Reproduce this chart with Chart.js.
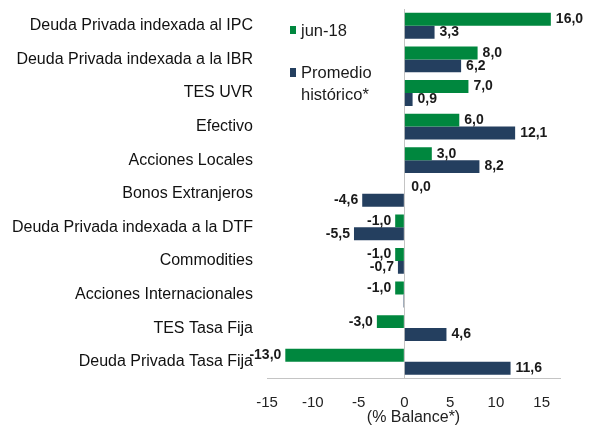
<!DOCTYPE html>
<html>
<head>
<meta charset="utf-8">
<script src="https://cdn.jsdelivr.net/npm/chart.js@4.4.0/dist/chart.umd.min.js"></script>
<style>
    html, body { margin: 0; padding: 0; background: #fff; }
    #wrap { width: 595px; height: 427px; }
</style>
</head>
<body>
<div id="wrap"><canvas id="balanceChart" width="595" height="427"></canvas></div>
<script>
const categories = [
    'Deuda Privada indexada al IPC',
    'Deuda Privada indexada a la IBR',
    'TES UVR',
    'Efectivo',
    'Acciones Locales',
    'Bonos Extranjeros',
    'Deuda Privada indexada a la DTF',
    'Commodities',
    'Acciones Internacionales',
    'TES Tasa Fija',
    'Deuda Privada Tasa Fija'
];
const jun18 = [16.0, 8.0, 7.0, 6.0, 3.0, 0.0, -1.0, -1.0, -1.0, -3.0, -13.0];
const promedioHistorico = [3.3, 6.2, 0.9, 12.1, 8.2, -4.6, -5.5, -0.7, -0.1, 4.6, 11.6];
const xTicks = [-15, -10, -5, 0, 5, 10, 15];
// the tiny bar in 'Acciones Internacionales' carries no label in the original
const unlabeled = { 1: ['Acciones Internacionales'] };

const GREEN = '#00873E';
const NAVY = '#243F5F';
const FONT = "'Liberation Sans', Arial, sans-serif";

const fmt = v => v.toFixed(1).replace('.', ',');

// value labels at the end of each bar
const barLabels = {
    id: 'barLabels',
    afterDatasetsDraw(chart) {
        const ctx = chart.ctx;
        ctx.save();
        ctx.font = 'bold 14px ' + FONT;
        ctx.fillStyle = '#1a1a1a';
        ctx.textBaseline = 'middle';
        chart.data.datasets.forEach((ds, di) => {
            const meta = chart.getDatasetMeta(di);
            meta.data.forEach((bar, i) => {
                const v = ds.data[i];
                if ((unlabeled[di] || []).includes(categories[i])) return;
                const zero = chart.scales.x.getPixelForValue(0);
                if (v < 0) {
                    ctx.textAlign = 'right';
                    ctx.fillText(fmt(v), bar.x - 4, bar.y);
                } else {
                    ctx.textAlign = 'left';
                    ctx.fillText(fmt(v), Math.max(bar.x, zero + 2) + 5, bar.y);
                }
            });
        });
        ctx.restore();
    }
};

// legend sits inside the plot on the left
const innerLegend = {
    id: 'innerLegend',
    afterDraw(chart) {
        const ctx = chart.ctx;
        ctx.save();
        ctx.font = '16.5px ' + FONT;
        ctx.textBaseline = 'middle';
        ctx.textAlign = 'left';
        ctx.fillStyle = GREEN;
        ctx.fillRect(290, 26, 6, 8);
        ctx.fillStyle = NAVY;
        ctx.fillRect(290, 68, 6, 9);
        ctx.fillStyle = '#1a1a1a';
        ctx.fillText(chart.data.datasets[0].label, 301, 31);
        const lines = chart.data.datasets[1].label.split(' ');
        ctx.fillText(lines[0], 301, 73);
        ctx.fillText(lines[1], 301, 95);
        ctx.restore();
    }
};

new Chart(document.getElementById('balanceChart'), {
    type: 'bar',
    data: {
        labels: categories,
        datasets: [
            { label: 'jun-18', data: jun18, backgroundColor: GREEN },
            { label: 'Promedio histórico*', data: promedioHistorico, backgroundColor: NAVY }
        ]
    },
    options: {
        indexAxis: 'y',
        responsive: false,
        animation: false,
        layout: { padding: { top: 9, right: 35, left: 0, bottom: 0 } },
        datasets: { bar: { barPercentage: 1, categoryPercentage: 0.77 } },
        plugins: {
            legend: { display: false },
            tooltip: { enabled: false }
        },
        scales: {
            x: {
                min: -15,
                max: 17,
                afterBuildTicks: s => { s.ticks = xTicks.map(v => ({ value: v })); },
                afterFit: s => { s.height = 48.5; s.paddingLeft = 0; s.paddingRight = 0; },
                grid: {
                    drawTicks: false,
                    color: c => (c.tick && c.tick.value === 0 ? '#c4c4c4' : 'transparent')
                },
                border: { display: true, color: '#c4c4c4' },
                ticks: {
                    padding: 15,
                    color: '#222',
                    font: { family: FONT, size: 15 }
                },
                title: {
                    display: true,
                    text: '(% Balance*)',
                    color: '#222',
                    padding: 0,
                    font: { family: FONT, size: 16 }
                }
            },
            y: {
                afterFit: s => { s.width = 267; s.paddingTop = 0; s.paddingBottom = 0; },
                grid: { display: false, drawTicks: false },
                border: { display: false },
                ticks: {
                    padding: 14,
                    color: '#111',
                    font: { family: FONT, size: 16 }
                }
            }
        }
    },
    plugins: [barLabels, innerLegend]
});
</script>
</body>
</html>
